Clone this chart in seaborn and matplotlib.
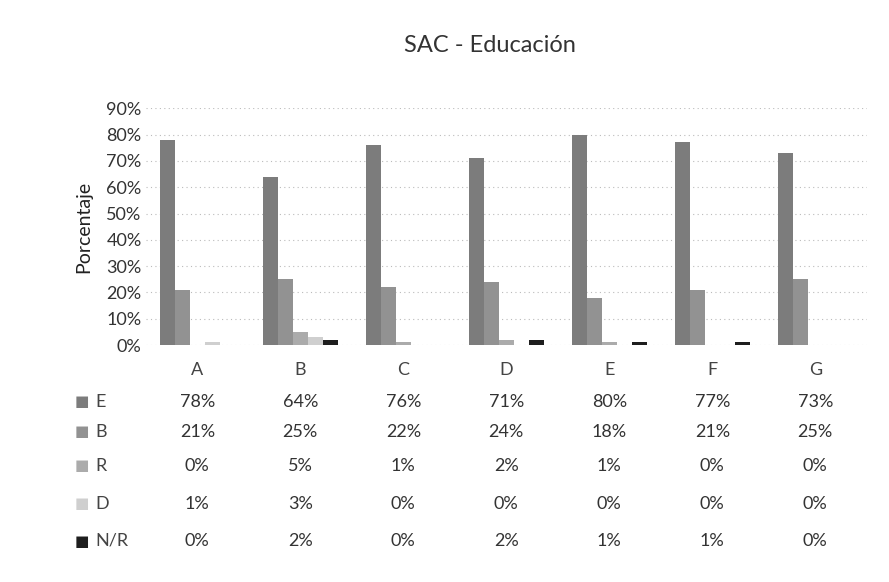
import pandas as pd
import matplotlib.pyplot as plt
import seaborn as sns
import numpy as np
from matplotlib.ticker import PercentFormatter, MultipleLocator
from matplotlib.transforms import blended_transform_factory

# data
categories = ["A", "B", "C", "D", "E", "F", "G"]
series = ["E", "B", "R", "D", "N/R"]
vals_E = [78, 64, 76, 71, 80, 77, 73]
vals_B = [21, 25, 22, 24, 18, 21, 25]
vals_R = [0, 5, 1, 2, 1, 0, 0]
vals_D = [1, 3, 0, 0, 0, 0, 0]
vals_NR = [0, 2, 0, 2, 1, 1, 0]
colors = ["#7c7c7c", "#929292", "#ababab", "#cfcfcf", "#1e1e1e"]

all_vals = [vals_E, vals_B, vals_R, vals_D, vals_NR]
rows = []
for s, v in zip(series, all_vals):
    for c, x in zip(categories, v):
        rows.append({"cat": c, "serie": s, "pct": x / 100})
df = pd.DataFrame(rows)

sns.set_style("white")
plt.rcParams['font.family'] = ['Lato', 'DejaVu Sans']

fig = plt.figure(figsize=(8.89, 5.82), dpi=100)
ax = fig.add_axes([0.164, 0.407, 0.811, 0.407])

sns.barplot(data=df, x="cat", y="pct", hue="serie", hue_order=series,
            palette=colors, width=0.73, ax=ax, legend=False, errorbar=None,
            linewidth=0)

ax.set_ylim(0, 0.9)
ax.set_xlim(-0.5, len(categories) - 0.5)
ax.yaxis.set_major_locator(MultipleLocator(0.1))
ax.yaxis.set_major_formatter(PercentFormatter(1.0, decimals=0))
ax.grid(axis="y", color="#bbbbbb", linestyle=(0, (1, 3)), linewidth=0.8)
ax.set_axisbelow(True)
for sp in ax.spines.values():
    sp.set_visible(False)
ax.tick_params(axis="y", length=0, labelsize=13, labelcolor="#333333", pad=3)
ax.tick_params(axis="x", length=0, labelsize=13, labelcolor="#444444", pad=12)
ax.set_xlabel("")
ax.set_ylabel("Porcentaje", fontsize=14, color="#222222", labelpad=10)

fig.text(0.551, 0.922, "SAC - Educación", ha="center", va="center",
         fontsize=17, color="#333333")

# data table below the chart
tr = blended_transform_factory(ax.transData, fig.transFigure)
row_y = [402, 432, 466, 504, 541]
for s, v, col, yp in zip(series, all_vals, colors, row_y):
    yf = 1 - yp / 582
    fig.text(0.092, yf, "■", color=col, fontsize=11, ha="center", va="center",
             family="DejaVu Sans")
    fig.text(0.107, yf, s, color="#444444", fontsize=13, ha="left", va="center")
    for i, x in enumerate(v):
        ax.text(i, yf, f"{x}%", transform=tr, ha="center", va="center",
                fontsize=13, color="#333333")

fig.savefig("out.png", dpi=100)
